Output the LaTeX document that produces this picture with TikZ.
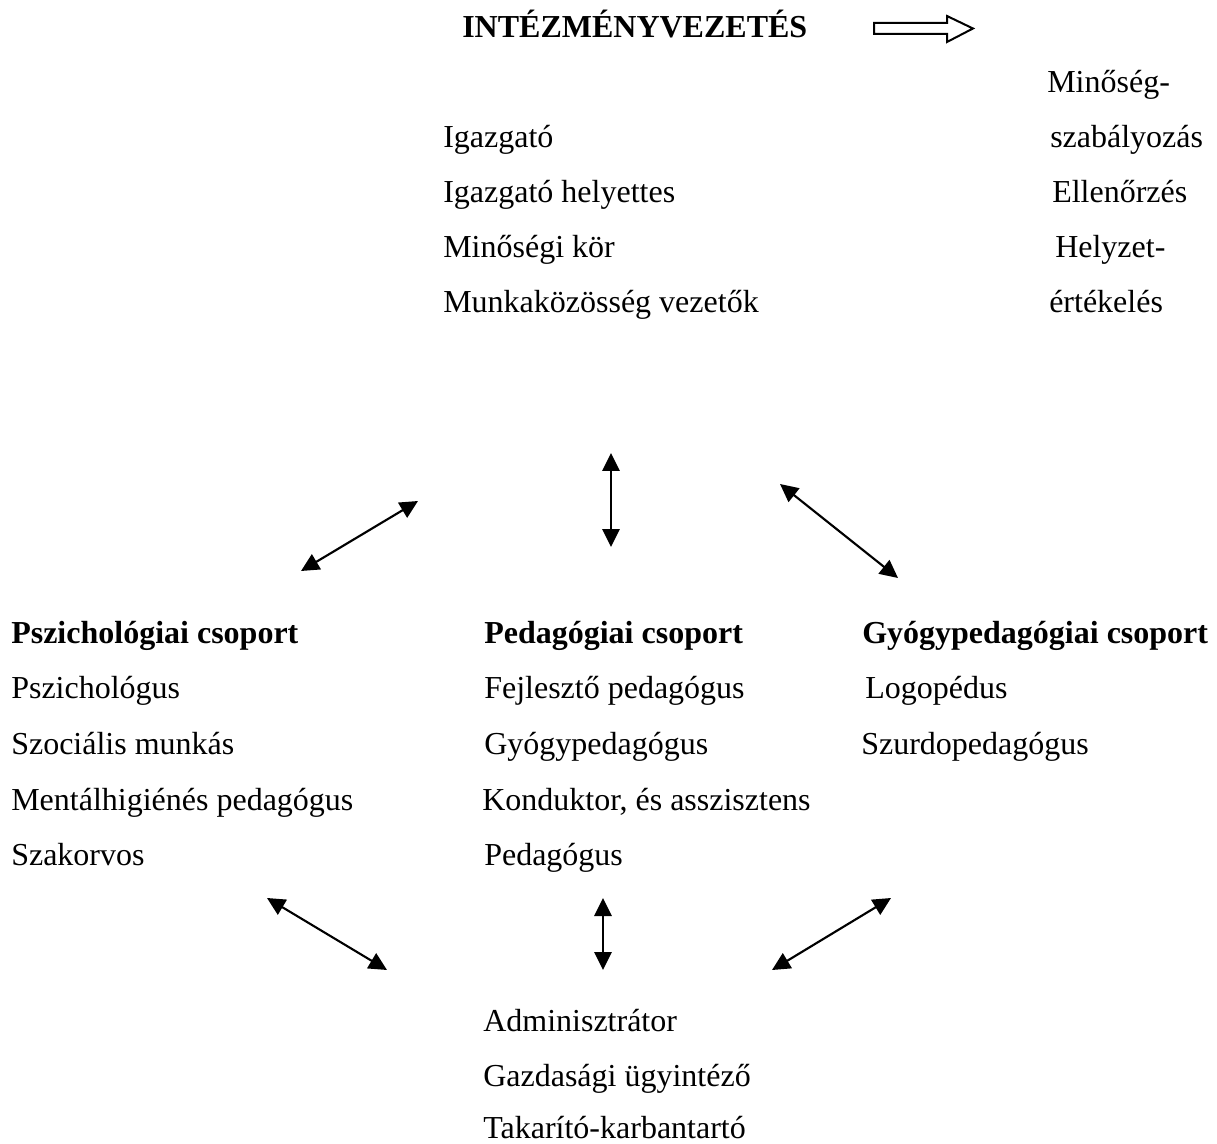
\documentclass[tikz,border=0pt]{standalone}
\usepackage{fontspec}
\setmainfont{Liberation Serif}
\usetikzlibrary{arrows.meta}
\begin{document}
\begin{tikzpicture}[x=0.75pt,y=-0.75pt,
  txt/.style={anchor=base west,inner sep=0pt,font=\fontsize{24}{28}\selectfont},
  bold/.style={txt,font=\fontsize{24}{28}\selectfont\bfseries},
  link/.style={{Triangle[length=13.5pt,width=13pt]}-{Triangle[length=13.5pt,width=13pt]},line width=1.6pt},
  hollow/.style={draw,line width=1.5pt,fill=white}]
\useasboundingbox (0,0) rectangle (1217,1144);
% title
\node[bold] (title) at (462,38) {INTÉZMÉNYVEZETÉS};
\draw[hollow] (874,23) -- (947,23) -- (947,16) -- (973,28.5) -- (947,42) -- (947,34) -- (874,34) -- cycle;
% leadership
\node[txt] (l1) at (443,148) {Igazgató};
\node[txt] (l2) at (443,203) {Igazgató helyettes};
\node[txt] (l3) at (443,258) {Minőségi kör};
\node[txt] (l4) at (443,313) {Munkaközösség vezetők};
% right column
\node[txt] (r1) at (1047,93) {Minőség-};
\node[txt] (r2) at (1050,148) {szabályozás};
\node[txt] (r3) at (1052,203) {Ellenőrzés};
\node[txt] (r4) at (1055,258) {Helyzet-};
\node[txt] (r5) at (1049,313) {értékelés};
% psych group
\node[bold] (p0) at (11,643) {Pszichológiai csoport};
\node[txt] (p1) at (11,698) {Pszichológus};
\node[txt] (p2) at (11,754) {Szociális munkás};
\node[txt] (p3) at (11,810) {Mentálhigiénés pedagógus};
\node[txt] (p4) at (11,865) {Szakorvos};
% pedagogy group
\node[bold] (e0) at (484,643) {Pedagógiai csoport};
\node[txt] (e1) at (484,698) {Fejlesztő pedagógus};
\node[txt] (e2) at (484,754) {Gyógypedagógus};
\node[txt] (e3) at (482,810) {Konduktor, és asszisztens};
\node[txt] (e4) at (484,865) {Pedagógus};
% special group
\node[bold] (g0) at (862,643) {Gyógypedagógiai csoport};
\node[txt] (g1) at (865,698) {Logopédus};
\node[txt] (g2) at (861,754) {Szurdopedagógus};
% staff
\node[txt] (s1) at (483,1031) {Adminisztrátor};
\node[txt] (s2) at (483,1086) {Gazdasági ügyintéző};
\node[txt] (s3) at (483,1138) {Takarító-karbantartó};
% arrow end points
\coordinate (a1s) at (301,571); \coordinate (a1e) at (418,501);
\coordinate (a2s) at (611,453); \coordinate (a2e) at (611,547);
\coordinate (a3s) at (780,484); \coordinate (a3e) at (898,578);
\coordinate (a4s) at (267,898); \coordinate (a4e) at (387,970);
\coordinate (a5s) at (603,898); \coordinate (a5e) at (603,970);
\coordinate (a6s) at (772,970); \coordinate (a6e) at (891,898);
\draw[link] (a1s) -- (a1e);
\draw[link] (a2s) -- (a2e);
\draw[link] (a3s) -- (a3e);
\draw[link] (a4s) -- (a4e);
\draw[link] (a5s) -- (a5e);
\draw[link] (a6s) -- (a6e);
\end{tikzpicture}
\end{document}
